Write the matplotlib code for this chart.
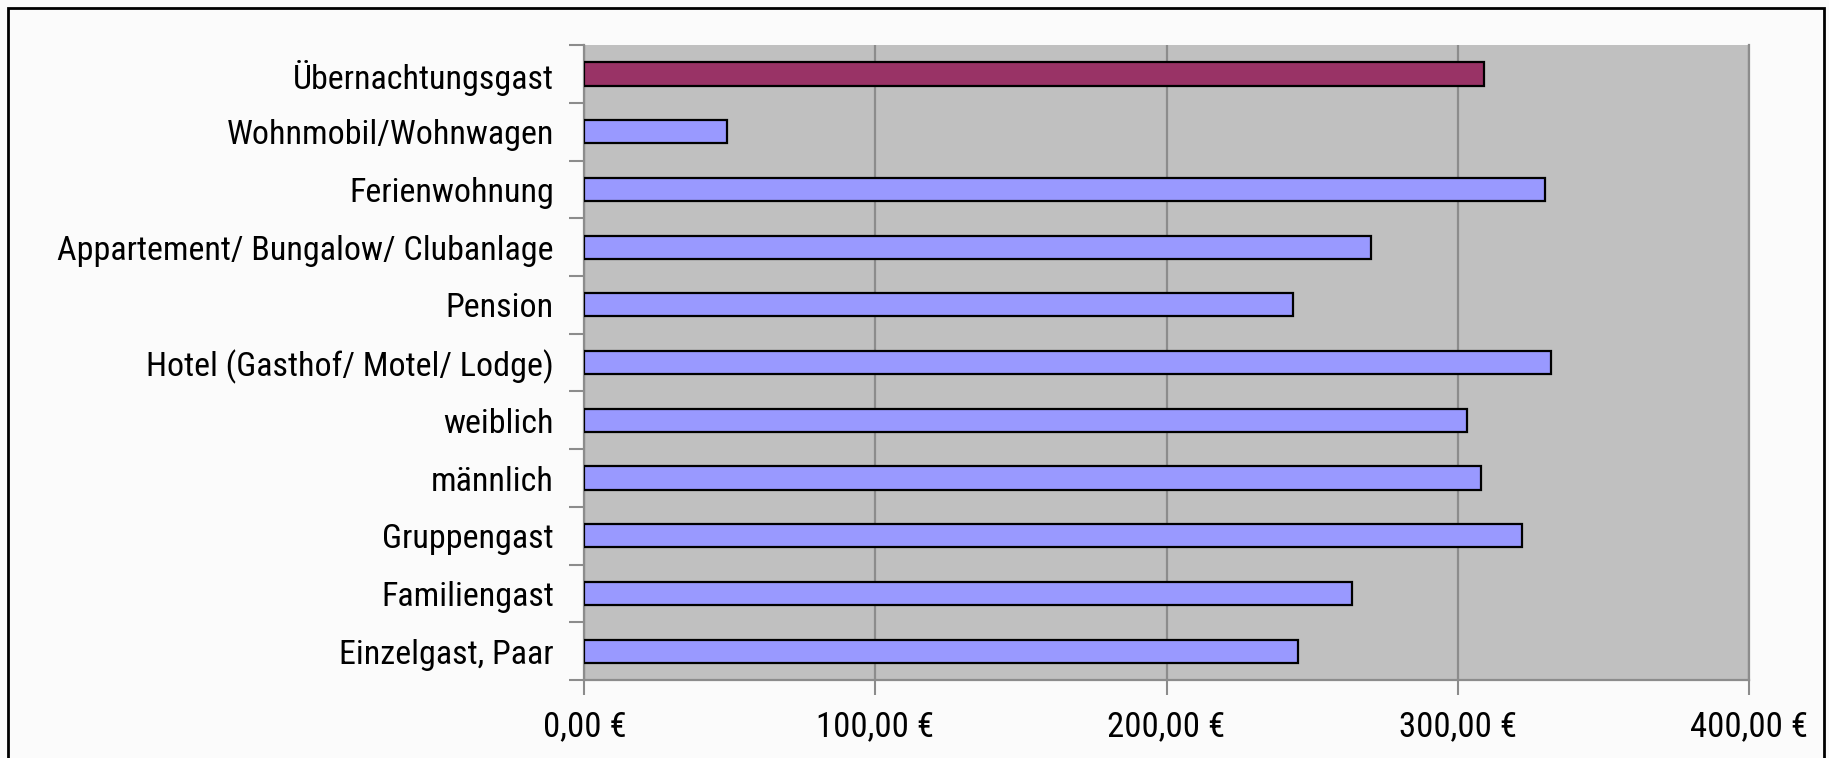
import matplotlib.pyplot as plt
import matplotlib.patches as mpatches
from matplotlib.ticker import FuncFormatter, FixedLocator
import numpy as np

# --- Daten: durchschnittliche Ausgaben je Gast ---
kategorien = [
    'Einzelgast, Paar',
    'Familiengast',
    'Gruppengast',
    'männlich',
    'weiblich',
    'Hotel (Gasthof/ Motel/ Lodge)',
    'Pension',
    'Appartement/ Bungalow/ Clubanlage',
    'Ferienwohnung',
    'Wohnmobil/Wohnwagen',
    'Übernachtungsgast',
]
ausgaben = [245.3, 263.8, 322.2, 307.9, 303.1, 332.0, 243.6, 270.1, 329.9, 49.1, 309.2]
farben = ['#9999ff'] * 10 + ['#993366']
x_ticks = [0, 100, 200, 300, 400]

plt.rcParams['font.family'] = ['Roboto Condensed', 'Noto Sans', 'DejaVu Sans']
plt.rcParams['font.stretch'] = 'condensed'

fig = plt.figure(figsize=(18.29, 7.58), dpi=100, facecolor='#fbfbfb')
ax = fig.add_axes([0.3195, 0.1029, 0.6366, 0.8375])
ax.set_facecolor('#c0c0c0')

y = np.arange(len(kategorien))
ax.barh(y, ausgaben, height=0.40, color=farben, edgecolor='black', linewidth=1.6, zorder=3)

ax.set_xlim(0, 400)
ax.set_ylim(-0.5, len(kategorien) - 0.5)

# x-Achse in Euro
ax.xaxis.set_major_locator(FixedLocator(x_ticks))
ax.xaxis.set_major_formatter(FuncFormatter(lambda v, p: f'{v:.2f} €'.replace('.', ',')))
ax.tick_params(axis='x', direction='out', length=11, width=1.5, color='#8c8c8c',
               labelsize=25, pad=11)
ax.grid(axis='x', color='#8c8c8c', linewidth=1.6, zorder=1)

# y-Achse: Beschriftung mittig, Striche zwischen den Kategorien
ax.set_yticks(y)
ax.set_yticklabels(kategorien)
ax.set_yticks(np.arange(-0.5, len(kategorien)), minor=True)
ax.tick_params(axis='y', which='major', length=0, labelsize=24.5, pad=22)
ax.tick_params(axis='y', which='minor', direction='out', length=11, width=1.5, color='#8c8c8c')

for side in ['left', 'bottom', 'right']:
    ax.spines[side].set_color('#8c8c8c')
    ax.spines[side].set_linewidth(1.6)
ax.spines['top'].set_visible(False)

# Rahmen um das Diagramm
rahmen = mpatches.Rectangle((8 / 1829, -0.05), (1824 - 8) / 1829, 1.05 - 7.5 / 758,
                            transform=fig.transFigure, fill=False, edgecolor='black',
                            linewidth=2, clip_on=False)
fig.patches.append(rahmen)

fig.savefig('out.png', dpi=100, facecolor=fig.get_facecolor())
